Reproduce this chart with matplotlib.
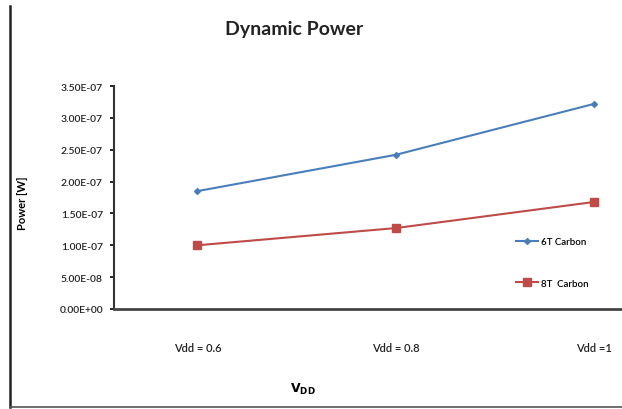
import matplotlib.pyplot as plt
from matplotlib.lines import Line2D

# data
categories = ["Vdd = 0.6", "Vdd = 0.8", "Vdd =1"]
power_6t = [1.85e-7, 2.42e-7, 3.22e-7]
power_8t = [1.00e-7, 1.27e-7, 1.68e-7]
y_ticks = [0, 0.5e-7, 1.0e-7, 1.5e-7, 2.0e-7, 2.5e-7, 3.0e-7, 3.5e-7]
y_tick_labels = ["0.00E+00", "5.00E-08", "1.00E-07", "1.50E-07",
                 "2.00E-07", "2.50E-07", "3.00E-07", "3.50E-07"]

plt.rcParams['font.family'] = ['Lato', 'DejaVu Sans']

fig = plt.figure(figsize=(6.22, 4.10), dpi=100)
ax = fig.add_axes([114 / 622, 100 / 410, (622 - 114) / 622, (310 - 87) / 410])

x = list(range(len(categories)))
ax.plot(x, power_6t, color="#4a7ebb", marker="D", markersize=3, linewidth=1.5,
        label="6T Carbon")
ax.plot(x, power_8t, color="#be4b48", marker="s", markersize=6, linewidth=1.5,
        label="8T  Carbon")

ax.set_xlim(-0.42, 2.14)
ax.set_ylim(0, 3.5e-7)
ax.set_yticks(y_ticks)
ax.set_yticklabels(y_tick_labels, fontsize=7.5, fontweight="semibold",
                   color="#222222")
ax.set_xticks(x)
ax.set_xticklabels(categories, fontsize=8, fontweight="semibold", color="#222222")
ax.tick_params(axis="x", length=0, pad=24)
ax.tick_params(axis="y", length=3, width=1.2, direction="out", pad=5)

for side in ["top", "right"]:
    ax.spines[side].set_visible(False)
ax.spines["left"].set_linewidth(1.5)
ax.spines["left"].set_color("#333333")
ax.spines["bottom"].set_linewidth(2)
ax.spines["bottom"].set_color("#444444")

ax.set_ylabel("Power [W]", fontsize=8, fontweight="bold")
ax.yaxis.set_label_coords(-0.17, 0.48)

fig.text(294 / 622, 1 - 30 / 410, "Dynamic Power", fontsize=14, fontweight="bold",
         ha="center", va="center", color="#222222")
fig.text(303 / 622, 1 - 389 / 410, r"$\mathbf{V_{DD}}$", fontsize=9,
         ha="center", va="center")

ax.legend(loc="upper left", bbox_to_anchor=(0.775, 0.36), frameon=False,
          prop={"size": 7, "weight": "semibold"}, labelspacing=3.3,
          handlelength=2.2, handletextpad=0.3)

# frame pieces of the original picture
fig.add_artist(Line2D([10 / 622, 10 / 622], [0.983, 0.005], color="#222222",
                      linewidth=1.8))
fig.add_artist(Line2D([10 / 622, 1.0], [0.005, 0.005], color="#555555",
                      linewidth=1.2))

fig.savefig("out.png", dpi=100)
